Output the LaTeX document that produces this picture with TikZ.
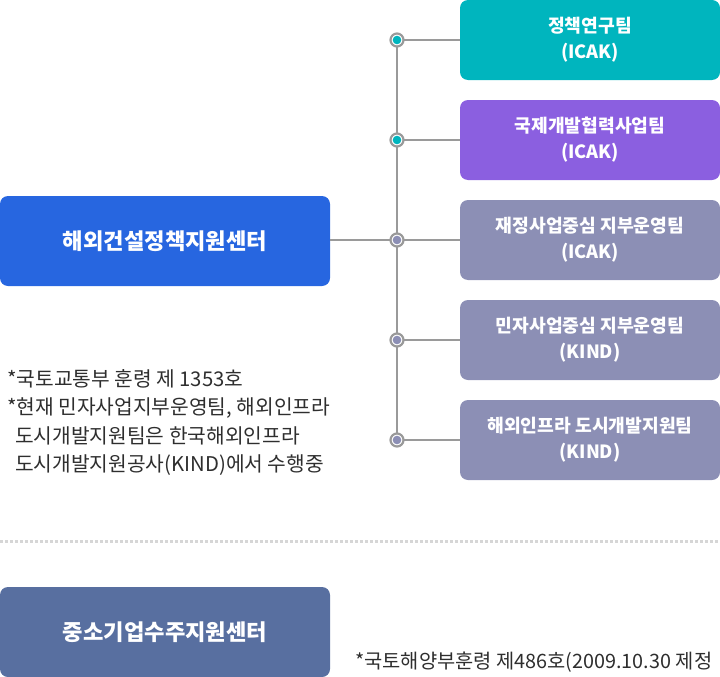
\documentclass[tikz,border=0pt]{standalone}
\usepackage{fontspec}
\setmainfont{Noto Sans CJK KR}
\definecolor{teal1}{HTML}{00B5BE}
\definecolor{purple1}{HTML}{8B5FE0}
\definecolor{gray1}{HTML}{8C8FB5}
\definecolor{blue1}{HTML}{2766E0}
\definecolor{navy1}{HTML}{586FA0}
\definecolor{line1}{HTML}{9A9A9A}
\definecolor{text1}{HTML}{2E2E2E}
\definecolor{dot1}{HTML}{D6D6D6}
\tikzset{
  teambox/.style={rounded corners=8pt, minimum width=260pt, minimum height=80pt, inner sep=0pt,
    text=white, align=center, font=\fontsize{18.2}{26}\selectfont\bfseries},
  centerbox/.style={rounded corners=8pt, minimum width=330pt, minimum height=90pt, inner sep=0pt,
    text=white, align=center, font=\fontsize{22.2}{26}\selectfont\bfseries},
  ring/.style={circle, draw=line1, line width=2.2pt, fill=white, minimum size=13pt, inner sep=0pt},
  conn/.style={draw=line1, line width=2pt},
  note/.style={text=text1, align=left, inner sep=0pt, font=\fontsize{20.3}{28.5}\selectfont}
}
\begin{document}
\begin{tikzpicture}[x=1pt,y=-1pt]
\useasboundingbox (0,0) rectangle (720,677);
\clip (0,0) rectangle (720,677);
% team boxes
\node[teambox, fill=teal1] (t1) at (590,40) {\raisebox{-2pt}{정책연구팀}\\\raisebox{-2pt}{(ICAK)}};
\node[teambox, fill=purple1] (t2) at (590,140) {\raisebox{-2pt}{국제개발협력사업팀}\\\raisebox{-2pt}{(ICAK)}};
\node[teambox, fill=gray1] (t3) at (590,240) {\raisebox{-2pt}{재정사업중심 지부운영팀}\\\raisebox{-2pt}{(ICAK)}};
\node[teambox, fill=gray1] (t4) at (590,340) {\raisebox{-2pt}{민자사업중심 지부운영팀}\\\raisebox{-2pt}{(KIND)}};
\node[teambox, fill=gray1] (t5) at (590,440) {\raisebox{-2pt}{해외인프라 도시개발지원팀}\\\raisebox{-2pt}{(KIND)}};
% center boxes
\node[centerbox, fill=blue1] (m) at (165,241) {해외건설정책지원센터};
\node[centerbox, fill=navy1] (s) at (165,632) {중소기업수주지원센터};
% ring coordinates
\coordinate (c1) at (397,40);
\coordinate (c2) at (397,140);
\coordinate (c3) at (397,240);
\coordinate (c4) at (397,340);
\coordinate (c5) at (397,440);
% connectors
\draw[conn] (c1) -- (c5);
\draw[conn] (c1) -- (t1.west |- c1);
\draw[conn] (c2) -- (t2.west |- c2);
\draw[conn] (c3) -- (t3.west |- c3);
\draw[conn] (c4) -- (t4.west |- c4);
\draw[conn] (c5) -- (t5.west |- c5);
\draw[conn] (m.east |- c3) -- (c3);
% rings
\node[ring] (r1) at (c1) {};
\fill[teal1] (r1) circle (4.3pt);
\node[ring] (r2) at (c2) {};
\fill[teal1] (r2) circle (4.3pt);
\node[ring] (r3) at (c3) {};
\fill[gray1] (r3) circle (4.3pt);
\node[ring] (r4) at (c4) {};
\fill[gray1] (r4) circle (4.3pt);
\node[ring] (r5) at (c5) {};
\fill[gray1] (r5) circle (4.3pt);
% notes
\node[note, anchor=base west] (n1) at (7,386) {*국토교통부 훈령 제 1353호};
\node[note, anchor=base west] (n2) at (7,414.5) {*현재 민자사업지부운영팀, 해외인프라};
\node[note, anchor=base west] (n3) at (15,443) {도시개발지원팀은 한국해외인프라};
\node[note, anchor=base west] (n4) at (15,471.5) {도시개발지원공사(KIND)에서 수행중};
% dotted separator
\coordinate (d1) at (0,541);
\coordinate (d2) at (720,541);
\draw[dot1, line width=3pt, dash pattern=on 3pt off 2pt] (d1) -- (d2);
% bottom note
\node[note, anchor=base west, font=\fontsize{19.8}{28}\selectfont] (n5) at (355,668) {*국토해양부훈령 제486호(2009.10.30 제정};
\end{tikzpicture}
\end{document}
